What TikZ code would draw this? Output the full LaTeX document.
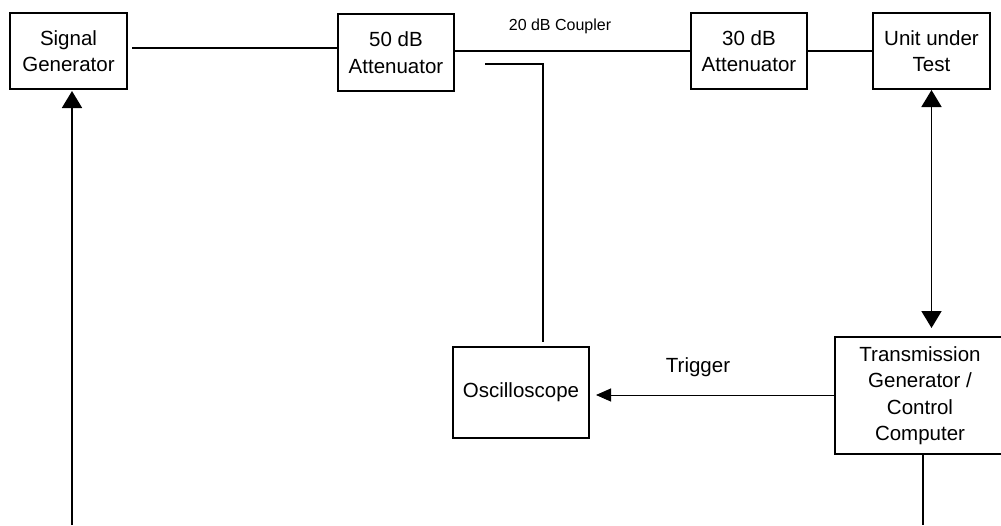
\documentclass[tikz,border=0pt]{standalone}
\usepackage{fontspec}
\setmainfont{Liberation Sans}
\usetikzlibrary{arrows.meta}
\begin{document}
\begin{tikzpicture}[x=1pt,y=-1pt,
  blk/.style={draw, line width=1.8pt, rectangle, inner sep=0pt, outer sep=0pt,
    align=center, font=\fontsize{20.5}{26.5}\selectfont},
  wire/.style={line width=1.8pt},
  thin wire/.style={line width=1pt},
  bigtip/.style={-{Triangle[length=17pt,width=20pt]}},
  bothtip/.style={{Triangle[length=17pt,width=20pt]}-{Triangle[length=17pt,width=20pt]}},
  smalltip/.style={-{Triangle[length=15pt,width=13pt]}},
  lbl/.style={inner sep=0pt}
]
\useasboundingbox (0,0) rectangle (1001,525);
\clip (0,0) rectangle (1001,525);
\fill[white] (0,0) rectangle (1001,525);

\node[blk, minimum width=117pt, minimum height=76pt] (sg) at (68.5,51) {Signal\\Generator};
\node[blk, minimum width=116pt, minimum height=77pt] (att50) at (396,52.5) {50 dB\\Attenuator};
\node[blk, minimum width=116pt, minimum height=76pt] (att30) at (749,51) {30 dB\\Attenuator};
\node[blk, minimum width=117pt, minimum height=76pt] (uut) at (931.5,51) {Unit under\\Test};
\node[blk, minimum width=136pt, minimum height=91pt] (osc) at (521,392.5) {Oscilloscope};
\node[blk, minimum width=170pt, minimum height=117pt] (tg) at (920,395.5) {Transmission\\Generator /\\Control\\Computer};

\node[lbl, font=\fontsize{16}{19}\selectfont] (cpl) at (560,26) {20 dB Coupler};
\node[lbl, font=\fontsize{20.5}{26.5}\selectfont] (trg) at (698,367) {Trigger};

% main RF chain
\draw[wire] ([xshift=5pt]sg.east |- 0,48) -- (att50.west |- 0,48);
\draw[wire] (att50.east |- 0,51) -- (att30.west |- 0,51);
\draw[wire] (att30.east |- 0,51) -- (uut.west |- 0,51);

% coupler branch to oscilloscope
\coordinate (cpa) at (485,64);
\coordinate (cpb) at (543,342);
\draw[wire] (cpa) -| (cpb);

% unit under test <-> transmission generator
\draw[wire, bothtip, shorten <=1pt, shorten >=9pt] (uut.south) -- (uut.south |- tg.north);

% trigger
\draw[thin wire, smalltip, shorten >=7pt] (tg.west |- 0,395) -- (osc.east |- 0,395);

% lines running off the bottom
\coordinate (sgb) at (72,525);
\draw[wire, bigtip, shorten >=2pt] (sgb) -- (sgb |- sg.south);
\coordinate (tgb) at (923,525);
\draw[wire] (tgb |- tg.south) -- (tgb);
\end{tikzpicture}
\end{document}
